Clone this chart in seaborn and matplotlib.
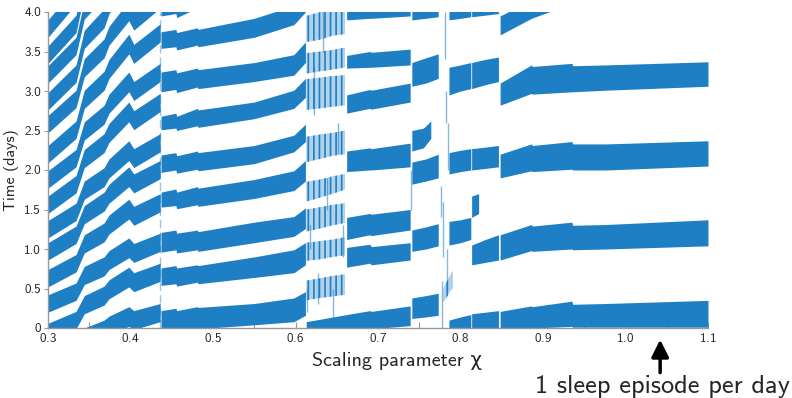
import matplotlib
matplotlib.use("Agg")
import matplotlib.pyplot as plt
import seaborn as sns

BLUE = "#1f7fc4"

# ---------------------------------------------------------------------------
# Sleep episodes (onset / wake time, in days) as the scaling parameter chi varies.
# Each row is one branch of consecutive sleep episodes, given at the chi
# breakpoints of its regime.
# ---------------------------------------------------------------------------

# chi < 0.436: several short sleeps per day, drifting later with chi
chi_a = [0.300, 0.334, 0.344, 0.368, 0.374, 0.398, 0.404, 0.436]
onset_a = [
    [-0.48, -0.37, -0.23, -0.14, -0.09, 0.02, -0.02, 0.08],
    [-0.16, -0.01, 0.18, 0.29, 0.37, 0.52, 0.46, 0.59],
    [0.20, 0.35, 0.55, 0.66, 0.74, 0.89, 0.83, 0.97],
    [0.52, 0.71, 0.95, 1.09, 1.19, 1.38, 1.30, 1.47],
    [0.86, 1.07, 1.32, 1.48, 1.58, 1.79, 1.71, 1.89],
    [1.14, 1.36, 1.63, 1.79, 1.90, 2.12, 2.03, 2.23],
    [1.45, 1.71, 2.03, 2.22, 2.35, 2.61, 2.51, 2.74],
    [1.77, 2.04, 2.38, 2.58, 2.72, 2.99, 2.88, 3.12],
    [2.09, 2.40, 2.78, 3.01, 3.16, 3.47, 3.35, 3.62],
    [2.47, 2.79, 3.18, 3.42, 3.58, 3.89, 3.77, 4.05],
    [2.76, 3.11, 3.54, 3.80, 3.98, 4.33, 4.19, 4.50],
    [3.10, 3.46, 3.91, 4.18, 4.36, 4.72, 4.58, 4.90],
    [3.35, 3.74, 4.23, 4.52, 4.72, 5.11, 4.95, 5.30],
    [3.68, 4.10, 4.63, 4.95, 5.16, 5.59, 5.42, 5.80],
]
duration_a = [0.22, 0.22, 0.23, 0.24, 0.24, 0.25, 0.24, 0.23]

# 0.436 < chi < 0.612: two sleeps per day
chi_b = [0.437, 0.455, 0.456, 0.481, 0.482, 0.550, 0.598, 0.612]
onset_b = [
    [-0.03, -0.01, -0.04, 0.00, -0.01, 0.04, 0.08, 0.16],
    [0.54, 0.56, 0.53, 0.58, 0.56, 0.64, 0.70, 0.80],
    [0.96, 0.99, 0.95, 0.99, 0.97, 1.08, 1.16, 1.26],
    [1.53, 1.55, 1.51, 1.56, 1.54, 1.64, 1.74, 1.86],
    [1.97, 2.00, 1.96, 2.01, 1.99, 2.08, 2.23, 2.36],
    [2.51, 2.53, 2.50, 2.56, 2.54, 2.65, 2.78, 2.92],
    [2.99, 3.02, 2.98, 3.05, 3.03, 3.12, 3.20, 3.36],
    [3.54, 3.56, 3.52, 3.58, 3.56, 3.68, 3.84, 4.00],
    [3.95, 3.98, 3.93, 4.05, 4.03, 4.15, 4.30, 4.45],
]
wake_b = [
    [0.22, 0.25, 0.22, 0.27, 0.26, 0.31, 0.38, 0.46],
    [0.76, 0.79, 0.76, 0.80, 0.79, 0.90, 0.99, 1.08],
    [1.21, 1.24, 1.20, 1.24, 1.22, 1.34, 1.41, 1.52],
    [1.72, 1.76, 1.72, 1.79, 1.77, 1.88, 1.99, 2.12],
    [2.19, 2.22, 2.18, 2.24, 2.22, 2.31, 2.44, 2.58],
    [2.68, 2.72, 2.68, 2.78, 2.76, 2.86, 3.01, 3.16],
    [3.24, 3.27, 3.23, 3.29, 3.27, 3.36, 3.46, 3.62],
    [3.75, 3.78, 3.74, 3.80, 3.78, 3.92, 4.08, 4.25],
    [4.15, 4.18, 4.13, 4.25, 4.23, 4.35, 4.50, 4.65],
]

# 0.613 < chi < 0.660: irregular regime, episodes scattered around these levels
chi_irr = [0.613, 0.630, 0.645, 0.660]
onset_irr = [
    [0.35, 0.38, 0.40, 0.42],
    [0.85, 0.87, 0.90, 0.92],
    [1.22, 1.26, 1.30, 1.33],
    [1.60, 1.65, 1.70, 1.75],
    [2.10, 2.14, 2.18, 2.20],
    [2.76, 2.78, 2.80, 2.82],
    [3.22, 3.25, 3.27, 3.30],
    [3.62, 3.65, 3.70, 3.72],
]
wake_irr = [
    [0.60, 0.63, 0.66, 0.68],
    [1.08, 1.10, 1.12, 1.15],
    [1.50, 1.53, 1.56, 1.58],
    [1.85, 1.88, 1.92, 1.95],
    [2.42, 2.45, 2.47, 2.50],
    [3.15, 3.17, 3.19, 3.20],
    [3.48, 3.50, 3.52, 3.55],
    [3.95, 4.00, 4.05, 4.10],
]

# new earliest branch appearing at chi = 0.613
chi_c_low = [0.613, 0.662, 0.690, 0.692, 0.739]
onset_c_low = [-0.05, -0.02, 0.00, -0.01, 0.03]
wake_c_low = [0.08, 0.17, 0.22, 0.21, 0.28]

# 0.662 < chi < 0.740
chi_c = [0.662, 0.690, 0.692, 0.739]
onset_c = [
    [0.77, 0.82, 0.80, 0.86],
    [1.12, 1.18, 1.17, 1.24],
    [1.98, 2.00, 2.00, 2.04],
    [2.72, 2.78, 2.77, 2.86],
    [3.29, 3.30, 3.30, 3.33],
    [3.90, 3.92, 3.92, 3.95],
]
wake_c = [
    [1.02, 1.06, 1.03, 1.08],
    [1.40, 1.45, 1.44, 1.50],
    [2.24, 2.28, 2.27, 2.34],
    [2.95, 3.02, 3.01, 3.10],
    [3.45, 3.50, 3.49, 3.53],
    [4.10, 4.12, 4.12, 4.15],
]

# 0.741 < chi < 0.773
chi_d1 = [0.741, 0.758, 0.773]
onset_d1 = [
    [0.12, 0.14, 0.16],
    [0.97, 1.00, 1.04],
    [1.82, 1.86, 1.90],
    [3.06, 3.10, 3.16],
    [3.90, 3.92, 3.94],
]
wake_d1 = [
    [0.38, 0.41, 0.44],
    [1.24, 1.28, 1.32],
    [2.10, 2.14, 2.20],
    [3.36, 3.42, 3.47],
    [4.10, 4.10, 4.10],
]
chi_d1_mid = [0.741, 0.755, 0.764]
onset_d1_mid = [2.24, 2.28, 2.40]
wake_d1_mid = [2.50, 2.53, 2.62]

# 0.786 < chi < 0.8125
chi_d2 = [0.786, 0.800, 0.8125]
onset_d2 = [
    [-0.05, -0.02, -0.01],
    [1.05, 1.08, 1.12],
    [1.95, 1.98, 2.00],
    [2.95, 3.00, 3.03],
    [3.90, 3.92, 3.94],
]
wake_d2 = [
    [0.10, 0.14, 0.17],
    [1.35, 1.37, 1.40],
    [2.22, 2.25, 2.27],
    [3.30, 3.33, 3.36],
    [4.10, 4.10, 4.10],
]
chi_d2_mid = [0.779, 0.790]
onset_d2_mid = [0.32, 0.50]
wake_d2_mid = [0.50, 0.72]

# 0.8135 < chi < 0.846
chi_d3 = [0.8135, 0.830, 0.846]
onset_d3 = [
    [-0.01, 0.00, -0.02],
    [0.80, 0.83, 0.86],
    [2.00, 2.02, 2.04],
    [3.03, 3.08, 3.12],
    [3.94, 3.96, 3.98],
]
wake_d3 = [
    [0.18, 0.20, 0.22],
    [1.05, 1.12, 1.18],
    [2.27, 2.29, 2.31],
    [3.36, 3.40, 3.43],
    [4.10, 4.15, 4.20],
]
chi_d3_mid = [0.8135, 0.822]
onset_d3_mid = [1.40, 1.45]
wake_d3_mid = [1.67, 1.70]

# chi > 0.848: settles to one sleep episode per day
chi_e = [0.848, 0.886, 0.887, 0.935, 0.936, 0.976, 1.100]
onset_e = [
    [-0.03, 0.00, 0.00, 0.02, 0.01, 0.01, 0.01],
    [0.86, 0.98, 0.97, 1.00, 0.99, 1.00, 1.04],
    [1.90, 1.99, 1.98, 2.01, 2.00, 2.00, 2.05],
    [2.82, 2.97, 2.96, 2.99, 2.99, 3.01, 3.06],
]
wake_e = [
    [0.21, 0.28, 0.27, 0.34, 0.30, 0.31, 0.35],
    [1.18, 1.31, 1.29, 1.34, 1.30, 1.31, 1.37],
    [2.20, 2.33, 2.31, 2.36, 2.33, 2.33, 2.37],
    [3.10, 3.33, 3.31, 3.35, 3.32, 3.33, 3.37],
]
chi_e_top = [0.848, 0.886, 0.920]
onset_e_top = [3.71, 3.92, 4.05]
wake_e_top = [3.95, 4.15, 4.30]

# isolated episodes in the irregular transition zones
streak_chi = [0.614, 0.618, 0.622, 0.627, 0.633, 0.638, 0.645, 0.651, 0.657,
              0.740, 0.776, 0.777, 0.779, 0.781, 0.783, 0.784, 0.785]
streak_lo = [0.20, 1.00, 2.70, 0.30, 3.50, 1.50, 0.10, 2.20, 0.90,
             1.50, 1.40, 0.00, 0.90, 3.40, 2.60, 0.50, 2.00]
streak_hi = [0.50, 1.30, 3.30, 0.70, 4.00, 1.90, 0.50, 2.60, 1.30,
             2.00, 1.80, 0.60, 1.60, 4.00, 3.00, 1.00, 2.60]

chi_switch = 0.436

x_ticks = [0.3, 0.4, 0.5, 0.6, 0.7, 0.8, 0.9, 1.0, 1.1]
x_minor = [0.35, 0.45, 0.55, 0.65, 0.75, 0.85, 0.95, 1.05]
y_ticks = [0, 0.5, 1.0, 1.5, 2.0, 2.5, 3.0, 3.5, 4.0]
y_labels = ["0", "0.5", "1.0", "1.5", "2.0", "2.5", "3.0", "3.5", "4.0"]

sns.set_theme(style="ticks")
plt.rcParams["font.family"] = ["cmss10", "DejaVu Sans"]
plt.rcParams["axes.formatter.use_mathtext"] = True
plt.rcParams["hatch.linewidth"] = 1.2
plt.rcParams["hatch.color"] = BLUE

fig = plt.figure(figsize=(7.92, 3.98), dpi=100)
ax = fig.add_axes([48 / 792, 70 / 398, 660 / 792, 316 / 398])


def draw_bands(chi, onsets, wakes):
    for lo, hi in zip(onsets, wakes):
        ax.fill_between(chi, lo, hi, color=BLUE, linewidth=0)


def draw_scattered(chi, onsets, wakes):
    # irregular zone: light fill crossed by dense vertical strokes
    for lo, hi in zip(onsets, wakes):
        ax.fill_between(chi, lo, hi, facecolor=(0.12, 0.5, 0.77, 0.35),
                        edgecolor=BLUE, hatch="|||", linewidth=0)


wake_a = [[o + d for o, d in zip(row, duration_a)] for row in onset_a]
draw_bands(chi_a, onset_a, wake_a)
draw_bands(chi_b, onset_b, wake_b)
draw_scattered(chi_irr, onset_irr, wake_irr)
draw_bands(chi_c_low, [onset_c_low], [wake_c_low])
draw_bands(chi_c, onset_c, wake_c)
draw_bands(chi_d1, onset_d1, wake_d1)
draw_bands(chi_d1_mid, [onset_d1_mid], [wake_d1_mid])
draw_bands(chi_d2, onset_d2, wake_d2)
draw_scattered(chi_d2_mid, [onset_d2_mid], [wake_d2_mid])
draw_bands(chi_d3, onset_d3, wake_d3)
draw_bands(chi_d3_mid, [onset_d3_mid], [wake_d3_mid])
draw_bands(chi_e, onset_e, wake_e)
draw_bands(chi_e_top, [onset_e_top], [wake_e_top])

ax.vlines(streak_chi, streak_lo, streak_hi, color=BLUE, alpha=0.55, linewidth=1.0)
ax.axvline(chi_switch, color=BLUE, alpha=0.45, linewidth=1.0, linestyle=(0, (6, 3)))

ax.set_xlim(0.3, 1.1)
ax.set_ylim(0, 4.0)
ax.set_xticks(x_ticks)
ax.set_xticks(x_minor, minor=True)
ax.set_yticks(y_ticks)
ax.set_yticklabels(y_labels)
ax.tick_params(axis="x", direction="in", length=4, width=0.8, color="#999999",
               labelsize=9.5, pad=3)
ax.tick_params(axis="x", which="minor", direction="in", length=4, width=0.8,
               color="#999999")
ax.tick_params(axis="y", direction="out", length=3, width=0.8, color="#999999",
               labelsize=9.5, pad=2)
for side in ("top", "right"):
    ax.spines[side].set_visible(False)
for side in ("left", "bottom"):
    ax.spines[side].set_color("#999999")
    ax.spines[side].set_linewidth(1.0)

ax.set_xlabel("Scaling parameter χ", fontsize=14.5, labelpad=0)
ax.xaxis.set_label_coords(0.529, -0.075)
ax.set_ylabel("Time (days)", fontsize=11.5, labelpad=4)

ax.annotate("", xy=(1.042, -0.028), xycoords=("data", "axes fraction"),
            xytext=(1.042, -0.15), textcoords=("data", "axes fraction"),
            arrowprops=dict(arrowstyle="-|>", color="black", lw=2.5,
                            mutation_scale=26), annotation_clip=False)
ax.text(1.045, -0.185, "1 sleep episode per day", transform=ax.get_xaxis_transform(),
        ha="center", va="center", fontsize=19, clip_on=False)

fig.savefig("out.png", dpi=100)
